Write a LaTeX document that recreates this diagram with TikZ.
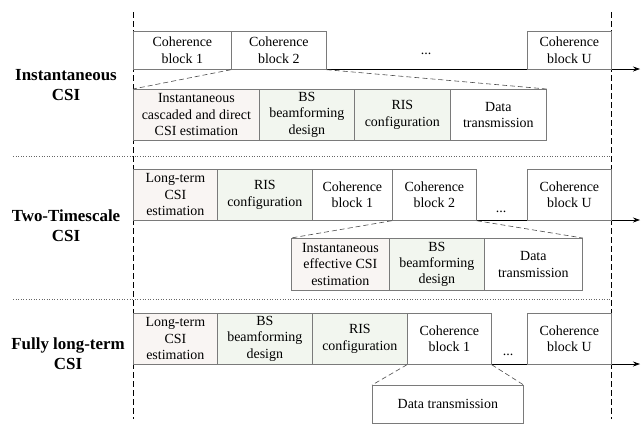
\documentclass[tikz,border=0pt]{standalone}
\usepackage{fontspec}
\setmainfont{Liberation Serif}
\usetikzlibrary{arrows.meta}
\definecolor{estfill}{HTML}{F9F5F3}
\definecolor{desfill}{HTML}{F2F6EF}
\definecolor{boxline}{HTML}{7A7A7A}
\tikzset{
  blk/.style={draw=boxline, line width=0.7bp, anchor=north west, inner sep=0pt,
    align=center, font=\fontsize{14}{16.5}\selectfont},
  est/.style={blk, fill=estfill},
  des/.style={blk, fill=desfill},
  lbl/.style={align=center, font=\fontsize{17}{20}\selectfont\bfseries},
  dots/.style={anchor=base, font=\fontsize{14}{16.5}\selectfont, inner sep=0pt},
  zoomline/.style={dashed, dash pattern=on 5bp off 3bp, draw=black!70, line width=0.6bp},
  vline/.style={dash pattern=on 6bp off 3bp, draw=black, line width=0.6bp},
  sepline/.style={dotted, draw=black!60, line width=0.6bp},
  timeaxis/.style={draw=black, line width=0.7bp, -{Stealth[length=7bp,width=5bp]}}
}
\begin{document}
\begin{tikzpicture}[x=1bp,y=-1bp]
\useasboundingbox (0,0) rectangle (641,424);
% vertical dashed guides
\coordinate (vt1) at (133,12); \coordinate (vb1) at (133,419);
\coordinate (vt2) at (611,12); \coordinate (vb2) at (611,419);
\draw[vline] (vt1) -- (vb1);
\draw[vline] (vt2) -- (vb2);
% separators
\coordinate (s1l) at (13,156); \coordinate (s1r) at (611,156);
\coordinate (s2l) at (13,299); \coordinate (s2r) at (611,299);
\draw[sepline] (s1l) -- (s1r);
\draw[sepline] (s2l) -- (s2r);

% ---------- Row 1: Instantaneous CSI ----------
\node[lbl] (l1) at (66,85) {Instantaneous\\CSI};
\coordinate (a1s) at (133,69); \coordinate (a1e) at (640,69);
\draw[timeaxis] (a1s) -- (a1e);
\node[blk, minimum width=98bp, minimum height=38bp] (r1c1) at (133,31) {Coherence\\block 1};
\node[blk, minimum width=95bp, minimum height=38bp] (r1c2) at (231,31) {Coherence\\block 2};
\node[dots] (r1d) at (426,54) {...};
\node[blk, minimum width=84bp, minimum height=38bp] (r1cu) at (527,31) {Coherence\\block U};
\node[est, minimum width=126bp, minimum height=51bp] (r1e) at (133,89) {Instantaneous\\cascaded and direct\\CSI estimation};
\node[des, minimum width=95bp, minimum height=51bp] (r1b) at (259,89) {BS\\beamforming\\design};
\node[des, minimum width=96bp, minimum height=51bp] (r1r) at (354,89) {RIS\\configuration};
\node[blk, minimum width=96bp, minimum height=51bp] (r1t) at (450,89) {Data\\transmission};
\draw[zoomline] (r1c2.south west) -- (r1e.north west);
\draw[zoomline] (r1c2.south east) -- (r1t.north east);

% ---------- Row 2: Two-Timescale CSI ----------
\node[lbl] (l2) at (66,226) {Two-Timescale\\CSI};
\coordinate (a2s) at (133,220); \coordinate (a2e) at (640,220);
\draw[timeaxis] (a2s) -- (a2e);
\node[est, minimum width=84bp, minimum height=51bp] (r2e) at (133,169) {Long-term\\CSI\\estimation};
\node[des, minimum width=95bp, minimum height=51bp] (r2r) at (217,169) {RIS\\configuration};
\node[blk, minimum width=80bp, minimum height=51bp] (r2c1) at (312,169) {Coherence\\block 1};
\node[blk, minimum width=84bp, minimum height=51bp] (r2c2) at (392,169) {Coherence\\block 2};
\node[dots] (r2d) at (501,212) {...};
\node[blk, minimum width=84bp, minimum height=51bp] (r2cu) at (527,169) {Coherence\\block U};
\node[est, minimum width=98bp, minimum height=52bp] (r2ie) at (291,238) {Instantaneous\\effective CSI\\estimation};
\node[des, minimum width=95bp, minimum height=52bp] (r2b) at (389,238) {BS\\beamforming\\design};
\node[blk, minimum width=98bp, minimum height=52bp] (r2t) at (484,238) {Data\\transmission};
\draw[zoomline] (r2c2.south west) -- (r2ie.north west);
\draw[zoomline] (r2c2.south east) -- (r2t.north east);

% ---------- Row 3: Fully long-term CSI ----------
\node[lbl] (l3) at (68,354) {Fully long-term\\CSI};
\coordinate (a3s) at (133,364); \coordinate (a3e) at (640,364);
\draw[timeaxis] (a3s) -- (a3e);
\node[est, minimum width=84bp, minimum height=51bp] (r3e) at (133,313) {Long-term\\CSI\\estimation};
\node[des, minimum width=95bp, minimum height=51bp] (r3b) at (217,313) {BS\\beamforming\\design};
\node[des, minimum width=95bp, minimum height=51bp] (r3r) at (312,313) {RIS\\configuration};
\node[blk, minimum width=84bp, minimum height=51bp] (r3c1) at (407,313) {Coherence\\block 1};
\node[dots] (r3d) at (508,355) {...};
\node[blk, minimum width=84bp, minimum height=51bp] (r3cu) at (527,313) {Coherence\\block U};
\node[blk, minimum width=151bp, minimum height=38bp] (r3t) at (372,385) {Data transmission};
\draw[zoomline] (r3c1.south west) -- (r3t.north west);
\draw[zoomline] (r3c1.south east) -- (r3t.north east);
\end{tikzpicture}
\end{document}
